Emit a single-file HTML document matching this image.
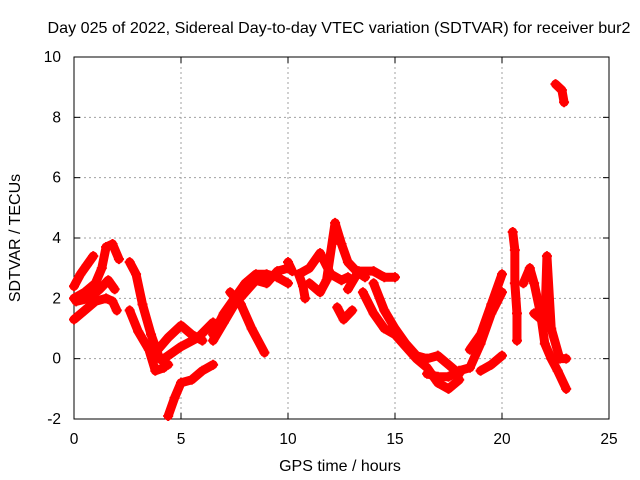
<!DOCTYPE html>
<html><head><meta charset="utf-8"><style>
body{margin:0;background:#fff}
svg{display:block;font-family:"Liberation Sans",sans-serif}
</style></head><body>
<svg id="chart" width="640" height="480">
<text x="339" y="33" font-size="16.1" text-anchor="middle">Day 025 of 2022, Sidereal Day-to-day VTEC variation (SDTVAR) for receiver bur2</text>
<g id="grid"></g>
<g id="axes"></g>
<g id="marks"></g>
<text x="340" y="471" font-size="16" text-anchor="middle">GPS time / hours</text>
<text transform="translate(20,238) rotate(-90)" font-size="16" text-anchor="middle">SDTVAR / TECUs</text>
</svg>
<script>
const xTicks=[0,5,10,15,20,25];
const yTicks=[-2,0,2,4,6,8,10];
const tracks=[
[[0,2.4],[0.3,2.8],[0.6,3.1],[0.9,3.4]],
[[0,1.3],[0.5,1.6],[1,1.9],[1.5,2.0],[1.8,1.9],[2,1.6]],
[[0,2.0],[0.5,2.2],[1,2.5],[1.3,3.0],[1.5,3.7],[1.8,3.8],[2.1,3.3]],
[[0.1,1.9],[0.7,2.0],[1.2,2.3],[1.6,2.6],[1.9,2.3]],
[[2.6,3.2],[2.9,2.8],[3.2,1.8],[3.6,0.8],[4,0],[4.4,-0.2]],
[[2.6,1.6],[3,0.9],[3.5,0.3],[3.8,-0.4],[4.2,-0.3]],
[[4.4,-1.9],[4.7,-1.3],[5,-0.8],[5.5,-0.7],[6,-0.4],[6.5,-0.2]],
[[3.8,0.2],[4.4,0.7],[5,1.1],[5.5,0.8],[6,0.6]],
[[4.2,0],[5,0.4],[5.8,0.7],[6.5,1.2]],
[[6.5,0.8],[7,1.5],[7.5,2],[8,2.5],[8.5,2.8],[9,2.8],[9.5,2.7],[10,2.5]],
[[6.5,0.6],[7,1.2],[7.5,1.8],[8,2.2],[8.5,2.6],[9,2.5],[9.5,2.9],[10,3.0]],
[[7.3,2.2],[7.8,1.8],[8.3,1.0],[8.9,0.2]],
[[10,3.2],[10.2,2.9]],
[[10.5,2.8],[10.7,2.4],[10.8,2.0]],
[[10.5,2.8],[11,3.0],[11.5,3.5],[12,2.8],[12.5,2.6],[12.8,2.7]],
[[11,2.5],[11.5,2.2],[11.8,2.6],[12.2,4.5],[12.5,3.8],[12.8,3.2],[13.2,2.9],[13.6,2.7]],
[[12.3,1.7],[12.6,1.3],[13,1.6]],
[[12.8,2.3],[13.3,2.9],[14,2.9],[14.5,2.7],[15,2.7]],
[[13.5,2.2],[14,1.5],[14.5,1.0],[15,0.8],[15.5,0.4],[16,0],[16.5,-0.3],[17,-0.8],[17.5,-1.0],[18,-0.7]],
[[14,2.5],[14.5,1.6],[15,1.0],[15.5,0.5],[16,0.1],[16.5,0],[17,0.1],[17.5,-0.2],[18,-0.5]],
[[16.5,-0.5],[17,-0.6],[17.5,-0.6],[18,-0.4],[18.5,-0.3],[19,0.5],[19.5,1.5],[20,2.2]],
[[18.5,0.3],[19,0.8],[19.5,1.8],[20,2.8]],
[[19,-0.4],[19.5,-0.2],[20,0.1]],
[[20.5,4.2],[20.6,3.6],[20.6,2.5],[20.7,1.5],[20.7,0.6]],
[[21,2.5],[21.3,3.0],[21.5,2.5],[21.8,1.5],[22,0.5],[22.3,0],[22.6,-0.4],[23,-1.0]],
[[21.5,1.5],[22,1.2],[22.1,3.4],[22.3,1],[22.7,0],[23,0]],
[[22.5,9.1],[22.8,8.9],[22.9,8.5]]
];
const X0=74,X1=609,Y0=419,Y1=57;
const sx=t=>X0+(t-0)/(25-0)*(X1-X0);
const sy=v=>Y0-(v+2)/12*(Y0-Y1);
const NS='http://www.w3.org/2000/svg';
function mk(tag,attrs,parent){const e=document.createElementNS(NS,tag);for(const k in attrs)e.setAttribute(k,attrs[k]);parent.appendChild(e);return e;}
const grid=document.getElementById('grid'),axes=document.getElementById('axes'),marks=document.getElementById('marks');
xTicks.forEach(t=>{
  const x=sx(t);
  if(t>0&&t<25){const l=mk('line',{x1:x,x2:x,y1:Y0,y2:Y1,stroke:'#a0a0a0','stroke-dasharray':'2,3'},grid);
  
  }
  mk('line',{x1:x,x2:x,y1:Y0,y2:Y0-6,stroke:'#000'},axes);
  mk('line',{x1:x,x2:x,y1:Y1,y2:Y1+6,stroke:'#000'},axes);
  const tx=mk('text',{x:x,y:Y0+25,'font-size':15.5,'text-anchor':'middle'},axes);tx.textContent=t;
  
  
});
yTicks.forEach(v=>{
  const y=sy(v);
  if(v>-2&&v<10){const l=mk('line',{x1:X0,x2:X1,y1:y,y2:y,stroke:'#a0a0a0','stroke-dasharray':'2,3'},grid);
  
  }
  mk('line',{x1:X0,x2:X0+6,y1:y,y2:y,stroke:'#000'},axes);
  mk('line',{x1:X1,x2:X1-6,y1:y,y2:y,stroke:'#000'},axes);
  const tx=mk('text',{x:X0-13,y:y+5,'font-size':15.5,'text-anchor':'end'},axes);tx.textContent=v;
  
  
});
mk('rect',{x:X0,y:Y1,width:X1-X0,height:Y0-Y1,fill:'none',stroke:'#000'},axes);
tracks.forEach(tr=>{
  const g=mk('g',{},marks);
  
  
  const pts=tr.map(p=>sx(p[0])+','+sy(p[1])).join(' ');
  mk('polyline',{points:pts,fill:'none',stroke:'#f00','stroke-width':9,'stroke-linejoin':'round','stroke-linecap':'round'},g);
  tr.forEach(p=>{
    const x=sx(p[0]),y=sy(p[1]);
    const m=mk('path',{d:`M${x-5},${y}H${x+5}M${x},${y-5}V${y+5}`,stroke:'#f00','stroke-width':2},g);
    
    
  });
});
</script>
</body></html>
